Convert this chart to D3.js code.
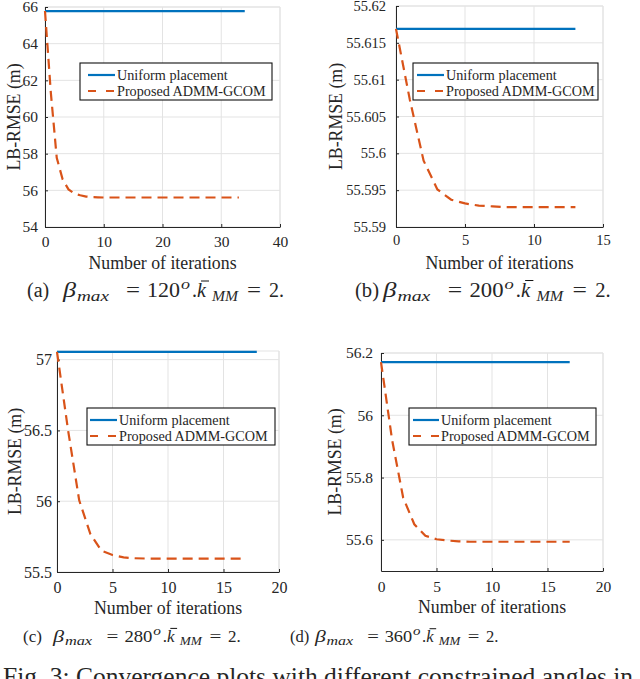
<!DOCTYPE html>
<html>
<head>
<meta charset="utf-8">
<script src="https://cdn.jsdelivr.net/npm/d3@7"></script>
<style>
  body { margin: 0; background: #fff; }
  svg { display: block; }
  text { font-family: "Liberation Serif", "Times New Roman", serif; fill: #262626; }
</style>
</head>
<body>
<div id="chart"></div>
<script>
// Panel (a): beta_max = 120
const uniformIterA = [0, 34];
const uniformA = [65.78, 65.78];
const proposedA = [65.78, 61.3, 57.77, 56.6, 56.05, 55.82, 55.73, 55.66, 55.63, 55.62,
                   55.61, 55.61, 55.61, 55.61, 55.61, 55.61, 55.61, 55.61, 55.61, 55.61,
                   55.61, 55.61, 55.61, 55.61, 55.61, 55.61, 55.61, 55.61, 55.61, 55.61,
                   55.61, 55.61, 55.61, 55.61];
const yTicksA = [54, 56, 58, 60, 62, 64, 66];
const xTicksA = [0, 10, 20, 30, 40];

// Panel (b): beta_max = 200
const uniformIterB = [0, 13];
const uniformB = [55.6169, 55.6169];
const proposedB = [55.6169, 55.6073, 55.5990, 55.5951, 55.5937, 55.5932, 55.5929, 55.5928,
                   55.5927, 55.5927, 55.5927, 55.5927, 55.5927, 55.5927];
const yTicksB = [55.59, 55.595, 55.6, 55.605, 55.61, 55.615, 55.62];
const xTicksB = [0, 5, 10, 15];

// Panel (c): beta_max = 280
const uniformIterC = [0, 18];
const uniformC = [57.055, 57.055];
const proposedC = [57.055, 56.5, 56.006, 55.77, 55.65, 55.62, 55.603, 55.597, 55.595,
                   55.594, 55.594, 55.594, 55.594, 55.594, 55.594, 55.594, 55.594, 55.594];
const yTicksC = [55.5, 56, 56.5, 57];
const xTicksC = [0, 5, 10, 15, 20];

// Panel (d): beta_max = 360
const uniformIterD = [0, 17];
const uniformD = [56.171, 56.171];
const proposedD = [56.171, 55.921, 55.735, 55.65, 55.613, 55.602, 55.598, 55.595, 55.594,
                   55.594, 55.594, 55.594, 55.594, 55.594, 55.594, 55.594, 55.594, 55.594];
const yTicksD = [55.6, 55.8, 56, 56.2];
const xTicksD = [0, 5, 10, 15, 20];

const seriesNames = ["Uniform placement", "Proposed ADMM-GCOM"];
const captionTags = ["(a)", "(b)", "(c)", "(d)"];
const betaValues = ["120", "200", "280", "360"];

const width = 640, height = 679;
const svg = d3.select("#chart").append("svg")
    .attr("width", width).attr("height", height);

// layout per panel (pixel boxes)
const panels = [
  { left: 45, right: 280, top: 7, bottom: 227, xDom: [0, 40], yDom: [54, 66],
    xTicks: xTicksA, yTicks: yTicksA, ux: uniformIterA, uy: uniformA, prop: proposedA,
    tickFont: 15.5, yPad: 7, xPad: 9, ylabX: 14,
    legend: { x: 80, y: 63, w: 192, l0: 8, l1: 35, tx: 37 },
    cap: { tag: 27, beta: 63, y: 297, s: 1 } },
  { left: 396, right: 603, top: 6, bottom: 227, xDom: [0, 15], yDom: [55.59, 55.62],
    xTicks: xTicksB, yTicks: yTicksB, ux: uniformIterB, uy: uniformB, prop: proposedB,
    tickFont: 14.5, yPad: 10, xPad: 8, ylabX: 336,
    legend: { x: 413, y: 63, w: 185, l0: 4, l1: 31, tx: 33 },
    cap: { tag: 355, beta: 383, y: 297, s: 1.03 } },
  { left: 57, right: 279, top: 351, bottom: 572, xDom: [0, 20], yDom: [55.5, 57.061],
    xTicks: xTicksC, yTicks: yTicksC, ux: uniformIterC, uy: uniformC, prop: proposedC,
    tickFont: 16, yPad: 5, xPad: 10, ylabX: 15,
    legend: { x: 87, y: 408, w: 188, l0: 3, l1: 30, tx: 32 },
    cap: { tag: 23, beta: 53, y: 642, s: 0.85 } },
  { left: 381, right: 603, top: 353, bottom: 571, xDom: [0, 20], yDom: [55.5, 56.2],
    xTicks: xTicksD, yTicks: yTicksD, ux: uniformIterD, uy: uniformD, prop: proposedD,
    tickFont: 15.5, yPad: 8, xPad: 10, ylabX: 335,
    legend: { x: 409, y: 408, w: 187, l0: 4, l1: 30, tx: 32 },
    cap: { tag: 290, beta: 315, y: 642, s: 0.83 } }
];

// caption pieces: [text, offset from beta, width, size, dy, italic] at scale 1
const capPieces = [
  ["\u03b2", 0, 13, 20, 0, true],
  ["max", 14, 32, 14.5, 4, true],
  ["=", 63, 14, 20, 0, false],
  ["NUM", 84, 33, 20, 0, false],
  ["o", 118, 9, 15, -8, true],
  [".", 129, 0, 20, 0, false],
  ["k", 134, 0, 20, 0, true],
  ["MM", 149, 26, 14.5, 4, true],
  ["=", 184, 14, 20, 0, false],
  ["2.", 206, 0, 20, 0, false]
];

const blue = "#0072BD", orange = "#D95319", gridColor = "#e3e3e3";

panels.forEach((p, pi) => {
  const x = d3.scaleLinear().domain(p.xDom).range([p.left, p.right]);
  const y = d3.scaleLinear().domain(p.yDom).range([p.bottom, p.top]);
  const g = svg.append("g");

  // grid
  g.append("g").selectAll("line").data(p.xTicks).enter().append("line")
    .attr("x1", d => x(d)).attr("x2", d => x(d))
    .attr("y1", p.top).attr("y2", p.bottom)
    .attr("stroke", gridColor);
  g.append("g").selectAll("line").data(p.yTicks).enter().append("line")
    .attr("x1", p.left).attr("x2", p.right)
    .attr("y1", d => y(d)).attr("y2", d => y(d))
    .attr("stroke", gridColor);
  g.append("line").attr("x1", p.left).attr("x2", p.right).attr("y1", p.top).attr("y2", p.top)
    .attr("stroke", gridColor);
  g.append("line").attr("x1", p.right).attr("x2", p.right).attr("y1", p.top).attr("y2", p.bottom)
    .attr("stroke", gridColor);

  // axes, ticks pointing inside like MATLAB
  const xAxis = d3.axisBottom(x).tickValues(p.xTicks).tickSizeInner(-3).tickSizeOuter(0).tickPadding(p.xPad);
  const yAxis = d3.axisLeft(y).tickValues(p.yTicks).tickSizeInner(-3).tickSizeOuter(0).tickPadding(p.yPad)
    .tickFormat(d => String(+d.toFixed(4)));
  const gx = g.append("g").attr("transform", `translate(0,${p.bottom})`).call(xAxis);
  const gy = g.append("g").attr("transform", `translate(${p.left},0)`).call(yAxis);
  [gx, gy].forEach(a => {
    a.select(".domain").attr("stroke", "#262626");
    a.selectAll(".tick line").attr("stroke", "#262626");
    a.selectAll("text").attr("font-family", "Liberation Serif")
      .attr("font-size", p.tickFont).attr("fill", "#262626");
  });

  // axis titles
  g.append("text").attr("x", (p.left + p.right) / 2).attr("y", p.bottom + 41.5)
    .attr("text-anchor", "middle").attr("font-size", 17.8).text("Number of iterations");
  g.append("text").attr("transform", `translate(${p.ylabX},${(p.top + p.bottom) / 2}) rotate(-90)`)
    .attr("text-anchor", "middle").attr("dy", "0.35em").attr("font-size", 17.8).text("LB-RMSE (m)");

  // series
  const line = d3.line().x(d => x(d[0])).y(d => y(d[1]));
  g.append("path").datum(p.ux.map((v, i) => [v, p.uy[i]]))
    .attr("d", line).attr("fill", "none").attr("stroke", blue).attr("stroke-width", 2.2);
  g.append("path").datum(p.prop.map((v, i) => [i, v]))
    .attr("d", line).attr("fill", "none").attr("stroke", orange).attr("stroke-width", 2.2)
    .attr("stroke-dasharray", "10,6");

  // legend
  const L = p.legend;
  const lg = g.append("g").attr("transform", `translate(${L.x},${L.y})`);
  lg.append("rect").attr("width", L.w).attr("height", 37)
    .attr("fill", "#fff").attr("stroke", "#111").attr("stroke-width", 1.1);
  seriesNames.forEach((name, i) => {
    const yy = 12 + i * 16;
    lg.append("line").attr("x1", L.l0).attr("x2", L.l1).attr("y1", yy).attr("y2", yy)
      .attr("stroke", i === 0 ? blue : orange).attr("stroke-width", 2.2)
      .attr("stroke-dasharray", i === 0 ? null : "8,10");
    lg.append("text").attr("x", L.tx).attr("y", yy + 5).attr("font-size", 14.2).text(name);
  });

  // caption: (x)  beta_max = NNN^o . kbar_MM = 2.
  const c = p.cap, s = c.s;
  const cg = svg.append("g");
  cg.append("text").attr("x", c.tag).attr("y", c.y).attr("font-size", 20 * s)
    .attr("fill", "#111").text(captionTags[pi]);
  capPieces.forEach(([txt, off, w, size, dy, italic]) => {
    const t = cg.append("text")
      .attr("x", c.beta + off * s).attr("y", c.y + dy * s).attr("font-size", size * s)
      .attr("font-style", italic ? "italic" : null).attr("fill", "#111")
      .text(txt === "NUM" ? betaValues[pi] : txt);
    if (w) t.attr("textLength", w * s).attr("lengthAdjust", "spacingAndGlyphs");
    if (txt === "k") {
      cg.append("line").attr("x1", c.beta + (off + 4) * s).attr("x2", c.beta + (off + 12) * s)
        .attr("y1", c.y - 16 * s).attr("y2", c.y - 16 * s).attr("stroke", "#111").attr("stroke-width", 1);
    }
  });
});

svg.append("text").attr("x", 3).attr("y", 685).attr("font-size", 25.5).attr("fill", "#111")
  .text("Fig. 3: Convergence plots with different constrained angles in");
</script>
</body>
</html>
